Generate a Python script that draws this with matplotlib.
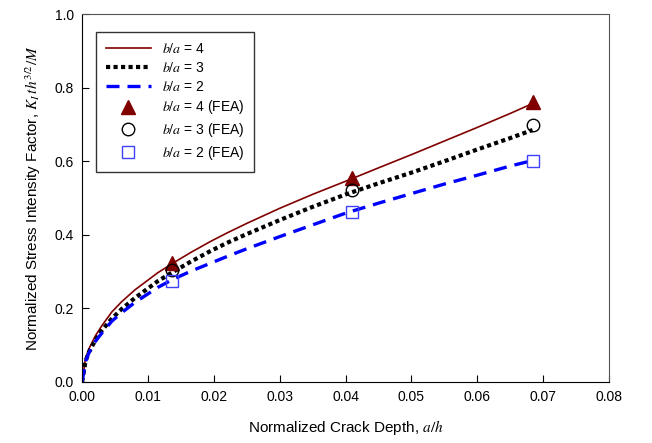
import matplotlib
matplotlib.use("Agg")
import matplotlib.pyplot as plt

plt.rcParams['font.family'] = ['Liberation Sans', 'DejaVu Sans']
plt.rcParams['mathtext.fontset'] = 'stix'

# normalized crack depth a/h
a_h = [0, 0.0005, 0.001, 0.002, 0.003, 0.0045, 0.006, 0.008, 0.0115, 0.0137,
       0.0165, 0.0194, 0.022, 0.025, 0.03, 0.035, 0.0402, 0.045, 0.05, 0.055,
       0.06, 0.065, 0.0684]
k_ba4 = [0, 0.063, 0.089, 0.125, 0.153, 0.190, 0.218, 0.250, 0.297, 0.322,
         0.352, 0.381, 0.405, 0.431, 0.472, 0.510, 0.547, 0.582, 0.618, 0.655,
         0.692, 0.730, 0.757]
k_ba3 = [0, 0.055, 0.080, 0.113, 0.140, 0.172, 0.198, 0.228, 0.274, 0.298,
         0.327, 0.355, 0.378, 0.402, 0.440, 0.476, 0.511, 0.540, 0.569, 0.600,
         0.632, 0.663, 0.685]
k_ba2 = [0, 0.055, 0.078, 0.110, 0.133, 0.165, 0.188, 0.216, 0.257, 0.278,
         0.301, 0.322, 0.341, 0.362, 0.395, 0.427, 0.460, 0.486, 0.512, 0.538,
         0.562, 0.587, 0.602]

# FEA results
fea_a = [0.0137, 0.041, 0.0684]
fea_ba4 = [0.323, 0.554, 0.762]
fea_ba3 = [0.304, 0.522, 0.698]
fea_ba2 = [0.274, 0.463, 0.600]

fig = plt.figure(figsize=(6.52, 4.43), dpi=100)
ax = fig.add_axes([0.126, 0.138, 0.808, 0.830])

ax.plot(a_h, k_ba4, color='#800000', lw=1.2, label=r'$b/a$ = 4')
ax.plot(a_h, k_ba3, color='black', lw=3, linestyle=(0, (1, 0.8)),
        dash_capstyle='butt', label=r'$b/a$ = 3')
ax.plot(a_h, k_ba2, color='#0000ff', lw=2.4, linestyle=(0, (3.9, 2.4)),
        dash_capstyle='butt', label=r'$b/a$ = 2')
ax.plot(fea_a, fea_ba4, '^', color='#800000', ms=10, ls='none',
        label=r'$b/a$ = 4 (FEA)')
ax.plot(fea_a, fea_ba3, 'o', mfc='none', mec='black', mew=1, ms=9, ls='none',
        label=r'$b/a$ = 3 (FEA)')
ax.plot(fea_a, fea_ba2, 's', mfc='none', mec='#4040ff', mew=1, ms=9, ls='none',
        label=r'$b/a$ = 2 (FEA)')

ax.set_xlim(0, 0.08)
ax.set_ylim(0, 1.0)
ax.set_xticks([0, 0.01, 0.02, 0.03, 0.04, 0.05, 0.06, 0.07, 0.08])
ax.set_xticklabels(['0.00', '0.01', '0.02', '0.03', '0.04', '0.05', '0.06', '0.07', '0.08'])
ax.set_yticks([0, 0.2, 0.4, 0.6, 0.8, 1.0])
ax.set_yticklabels(['0.0', '0.2', '0.4', '0.6', '0.8', '1.0'])
ax.tick_params(direction='in', length=5, labelsize=10, pad=6)
ax.spines['top'].set_color('#555555')
ax.spines['right'].set_color('#555555')

ax.set_xlabel(r'Normalized Crack Depth, $a/h$', fontsize=11, labelpad=10)
ax.set_ylabel(r'Normalized Stress Intensity Factor, $K_I\,th^{3/2}/M$',
              fontsize=11, labelpad=8)

leg = ax.legend(loc='upper left', bbox_to_anchor=(0.027, 0.951), borderaxespad=0,
                fancybox=False, edgecolor='black', fontsize=10, handlelength=3.2,
                labelspacing=0.35, borderpad=0.7)
leg.get_frame().set_linewidth(1)

fig.savefig('out.png', dpi=100)
